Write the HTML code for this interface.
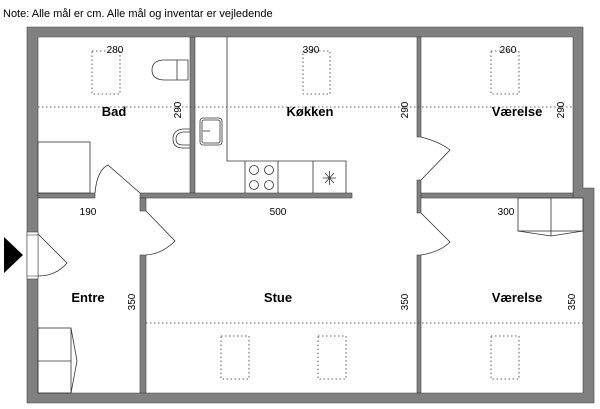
<!DOCTYPE html>
<html><head><meta charset="utf-8"><style>
body{margin:0;background:#fff;}
svg{display:block;font-family:"Liberation Sans",sans-serif;}
.l{font-weight:bold;font-size:13px;}
.n{font-size:10px;}
</style></head><body>
<svg width="600" height="409" viewBox="0 0 600 409">
<text x="3" y="17" font-size="11">Note: Alle mål er cm. Alle mål og inventar er vejledende</text>
<!-- outer walls -->
<path d="M27,27 H583 V188 H594 V403 H27 Z M38,37 V393 H583 V198 H573 V37 Z" fill="#808080" fill-rule="evenodd" stroke="#444" stroke-width="0.6"/>
<!-- interior walls -->
<g fill="#808080" stroke="#444" stroke-width="0.6">
<rect x="190" y="37" width="5" height="156"/>
<rect x="38" y="193" width="57" height="5"/>
<rect x="140" y="193" width="212" height="5"/>
<rect x="421" y="193" width="152" height="5"/>
<rect x="417" y="37" width="4" height="100"/>
<rect x="417" y="180" width="4" height="33"/>
<rect x="417" y="255" width="4" height="138"/>
<rect x="140" y="198" width="6" height="13"/>
<rect x="140" y="255" width="6" height="138"/>
</g>
<!-- entrance door -->
<rect x="27" y="232" width="11" height="47" fill="#fff" stroke="#444" stroke-width="0.6"/>
<line x1="27" y1="235" x2="38" y2="235" stroke="#444" stroke-width="0.6"/>
<line x1="27" y1="276" x2="38" y2="276" stroke="#444" stroke-width="0.6"/>
<g fill="none" stroke="#333" stroke-width="0.8">
<path d="M38,234 L67,263 Q56,276 38,276"/>
<path d="M95,193 Q97,170 108,165 L140,193"/>
<path d="M146,211 L175,241 Q162,254 146,255"/>
<path d="M421,137 Q440,142 450,150 L421,180"/>
<path d="M421,213 L450,242 Q440,252 421,255"/>
</g>
<polygon points="4,237 23,255 4,273" fill="#000"/>
<!-- dotted lines -->
<g stroke="#333" stroke-width="0.8" stroke-dasharray="1.5,2.5" fill="none">
<line x1="38" y1="107" x2="573" y2="107"/>
<line x1="146" y1="323" x2="583" y2="323"/>
<rect x="92" y="51" width="28" height="43"/>
<rect x="303" y="51" width="27" height="43"/>
<rect x="491" y="51" width="28" height="43"/>
<rect x="221" y="336" width="28" height="43"/>
<rect x="318" y="336" width="28" height="43"/>
<rect x="491" y="336" width="28" height="43"/>
</g>
<!-- bath fixtures -->
<g fill="none" stroke="#333" stroke-width="0.8">
<rect x="38" y="142" width="52" height="51" fill="#fff"/>
<path d="M188,60 H165 Q152,60 152,70 Q152,80 165,80 H188 Z"/>
<line x1="177" y1="60" x2="177" y2="80"/>
<path d="M190,129 H183 Q173,130 173,139 Q173,148 183,148 H190"/>
<path d="M190,132 H183 Q176,133 176,139 Q176,145 183,145 H190"/>
<rect x="200" y="118" width="22" height="27" rx="3"/>
<rect x="202" y="120" width="18" height="23" rx="2"/>
<line x1="203" y1="131" x2="210" y2="131"/>
<path d="M227,37 V161 H346 V193"/>
<line x1="245" y1="161" x2="245" y2="193"/>
<line x1="278" y1="161" x2="278" y2="193"/>
<line x1="313" y1="161" x2="313" y2="193"/>
<circle cx="254" cy="170" r="4.5"/><circle cx="269" cy="170" r="4.5"/>
<circle cx="254" cy="185" r="4.5"/><circle cx="269" cy="185" r="4.5"/>
<path d="M323,178 H336 M329.5,171 V185 M325,173 L334,183 M334,173 L325,183"/>
<rect x="518" y="198" width="65" height="33" fill="#fff"/>
<line x1="551" y1="198" x2="551" y2="236"/>
<path d="M518,231 L551,236 L583,231"/>
<rect x="38" y="328" width="33" height="65"/>
<line x1="38" y1="361" x2="71" y2="361"/>
<path d="M71,328 L77,361 L71,393"/>
</g>
<!-- labels -->
<g class="l" text-anchor="middle">
<text x="114" y="116">Bad</text>
<text x="310" y="116">Køkken</text>
<text x="517" y="116">Værelse</text>
<text x="88" y="302">Entre</text>
<text x="278" y="302">Stue</text>
<text x="517" y="302">Værelse</text>
</g>
<g class="n" text-anchor="middle">
<text x="115" y="53">280</text>
<text x="311" y="53">390</text>
<text x="508" y="53">260</text>
<text x="88" y="215">190</text>
<text x="278" y="215">500</text>
<text x="506" y="215">300</text>
<text transform="translate(181,110) rotate(-90)">290</text>
<text transform="translate(408,110) rotate(-90)">290</text>
<text transform="translate(564,110) rotate(-90)">290</text>
<text transform="translate(135,302) rotate(-90)">350</text>
<text transform="translate(408,302) rotate(-90)">350</text>
<text transform="translate(575,302) rotate(-90)">350</text>
</g>
</svg>
</body></html>
